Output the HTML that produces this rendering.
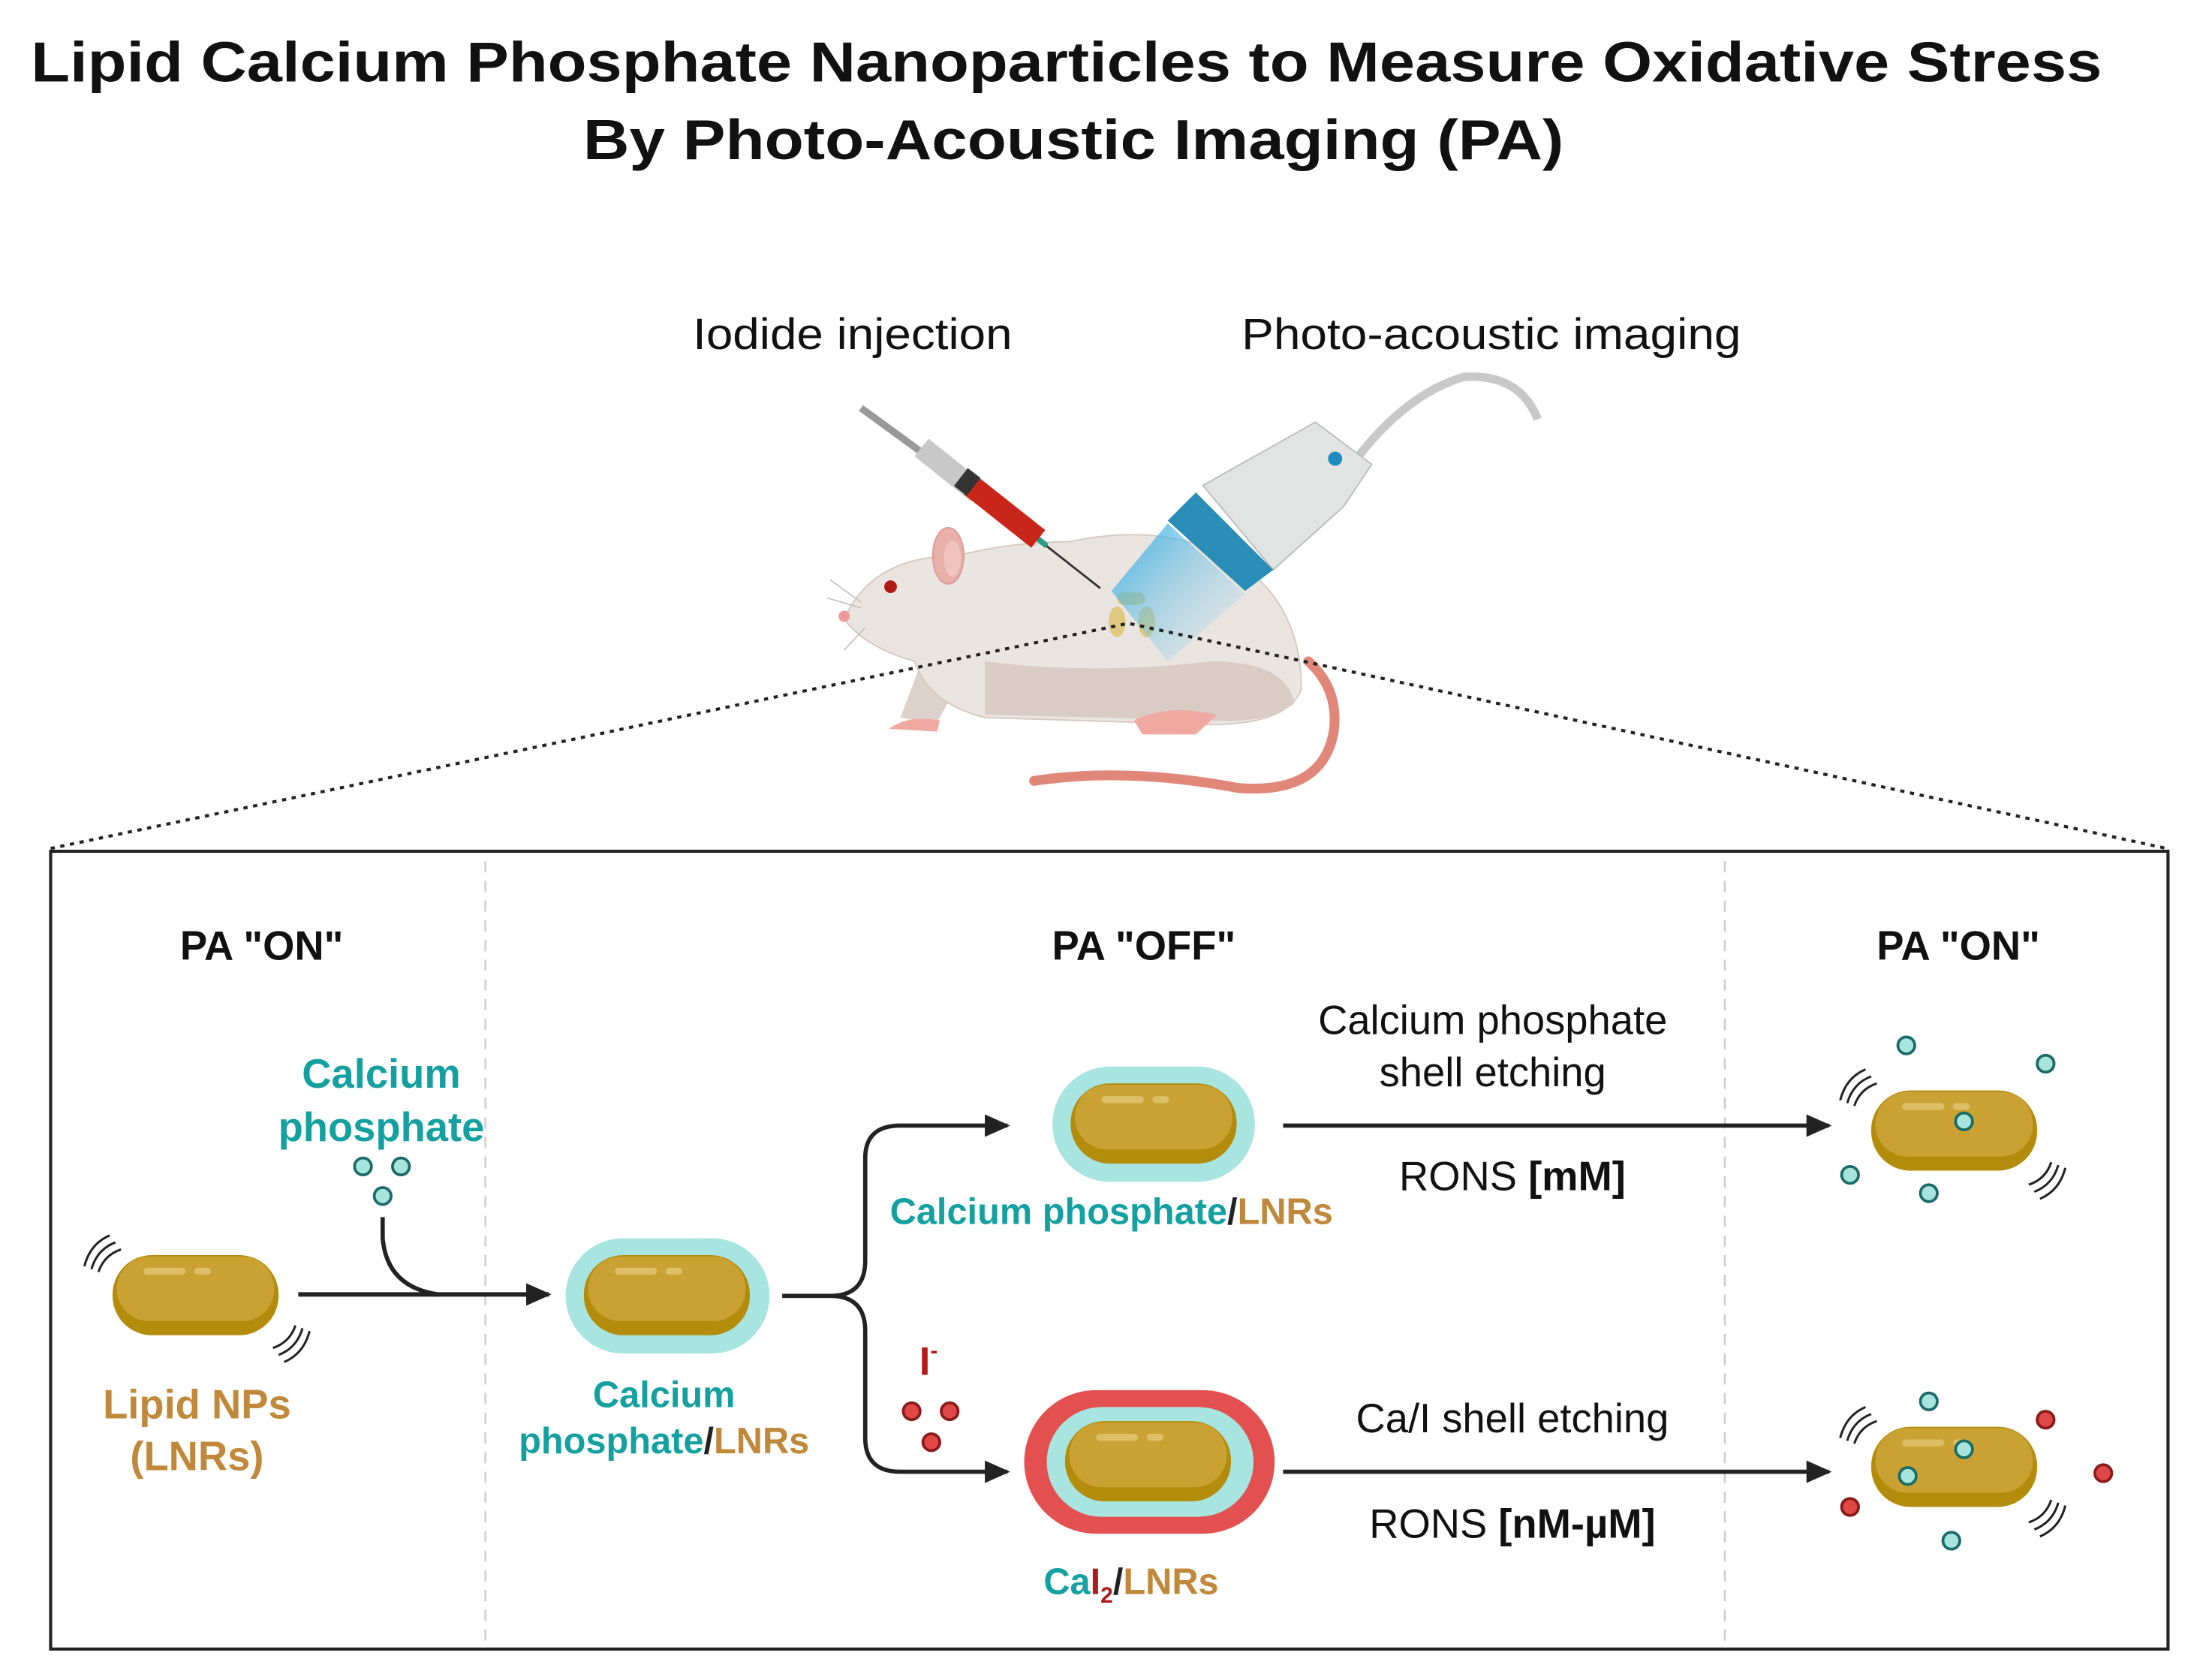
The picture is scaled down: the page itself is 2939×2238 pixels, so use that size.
<!DOCTYPE html>
<html><head><meta charset="utf-8"><style>
html,body{margin:0;padding:0;background:#fff;}
svg{display:block;}
text{font-family:"Liberation Sans",Arial,sans-serif;}
</style></head><body>
<svg width="2939" height="2238" viewBox="0 0 1568 1194" preserveAspectRatio="none" xmlns="http://www.w3.org/2000/svg">
<defs>
<linearGradient id="beam" x1="0" y1="0" x2="1" y2="1">
<stop offset="0" stop-color="#2aa8e0" stop-opacity="0.9"/>
<stop offset="1" stop-color="#9fd8f0" stop-opacity="0"/>
</linearGradient>
<marker id="ah" markerWidth="20" markerHeight="18" refX="16" refY="8" orient="auto" markerUnits="userSpaceOnUse">
<path d="M0,0 L18,8 L0,16 z" fill="#222"/>
</marker>
<g id="cap">
<rect x="0" y="0" width="118" height="57" rx="28" fill="#b48c0c"/>
<rect x="3" y="1" width="112" height="46" rx="23" fill="#c9a233"/>
<rect x="22" y="9" width="30" height="5" rx="2.5" fill="#dcbf66"/>
<rect x="58" y="9" width="12" height="5" rx="2.5" fill="#dcbf66"/>
</g>
<g id="wig" fill="none" stroke="#222" stroke-width="1.6">
<path d="M0,22 Q4,6 18,0"/><path d="M5,24 Q9,10 22,5"/><path d="M10,26 Q14,14 26,10"/>
</g>
</defs>

<text x="758" y="58" text-anchor="middle" font-size="40" font-weight="bold" fill="#111" textLength="1472" lengthAdjust="spacingAndGlyphs">Lipid Calcium Phosphate Nanoparticles to Measure Oxidative Stress</text>
<text x="763" y="113" text-anchor="middle" font-size="40" font-weight="bold" fill="#111" textLength="697" lengthAdjust="spacingAndGlyphs">By Photo-Acoustic Imaging (PA)</text>

<text x="606" y="248" text-anchor="middle" font-size="31" fill="#111" textLength="227" lengthAdjust="spacingAndGlyphs">Iodide injection</text>
<text x="1060" y="248" text-anchor="middle" font-size="31" fill="#111" textLength="355" lengthAdjust="spacingAndGlyphs">Photo-acoustic imaging</text>

<!-- mouse -->
<path d="M735,555 Q800,545 880,560 Q940,565 948,520 Q952,490 930,470" fill="none" stroke="#e0877a" stroke-width="7" stroke-linecap="round"/>
<path d="M655,470 L640,510 L665,515 L685,480 Z" fill="#ddd2cb"/>
<path d="M820,480 L810,508 L850,512 L860,480 Z" fill="#ddd2cb"/>
<path d="M600,440 Q620,395 680,395 Q720,385 760,385 Q830,370 880,400 Q925,430 925,490 Q915,515 860,515 L700,510 Q660,500 650,470 Q615,460 600,440 Z" fill="#ebe5e1" stroke="#d4c8c0" stroke-width="1"/>
<path d="M700,470 Q780,480 860,470 Q915,470 920,500 Q900,515 860,512 L700,508 Z" fill="#d9ccc4"/>
<path d="M632,518 Q645,508 668,512 L666,520 Z" fill="#f0a9a0"/>
<path d="M806,512 Q830,500 865,508 L850,522 L812,522 Z" fill="#f0a9a0"/>
<ellipse cx="674" cy="395" rx="11" ry="20" fill="#e8b0a8" stroke="#d99" stroke-width="1"/>
<ellipse cx="677" cy="397" rx="6" ry="13" fill="#f0c4bc"/>
<circle cx="633" cy="417" r="4.5" fill="#b01818"/>
<circle cx="600" cy="438" r="4" fill="#e99"/>
<g stroke="#bbb" stroke-width="0.8" fill="none"><path d="M612,428 L590,412"/><path d="M612,432 L588,425"/><path d="M615,446 L600,462"/></g>
<rect x="794" y="421" width="20" height="9" rx="4.5" fill="#e0c880"/>
<ellipse cx="794" cy="442" rx="6" ry="11" fill="#e0c880"/>
<ellipse cx="815" cy="442" rx="6" ry="11" fill="#e0c880"/>
<line x1="740" y1="385" x2="782" y2="418" stroke="#333" stroke-width="1.5"/>
<line x1="728" y1="375" x2="744" y2="388" stroke="#2a9a8a" stroke-width="4"/>
<line x1="612" y1="290" x2="660" y2="325" stroke="#999" stroke-width="5"/>
<line x1="655" y1="318" x2="695" y2="350" stroke="#c8c8c8" stroke-width="16"/>
<line x1="690" y1="345" x2="738" y2="383" stroke="#c8261a" stroke-width="16"/>
<line x1="683" y1="339" x2="692" y2="346" stroke="#333" stroke-width="16"/>
<path d="M965,325 Q1000,280 1040,268 Q1080,265 1093,298" fill="none" stroke="#c8c8c8" stroke-width="6"/>
<polygon points="855,345 935,300 975,330 955,360 905,405" fill="#e2e4e4" stroke="#bbb" stroke-width="1"/>
<polygon points="850,350 905,405 885,420 830,370" fill="#2a8db5"/>
<polygon points="830,372 885,422 830,470 790,420" fill="url(#beam)"/>
<circle cx="949" cy="326" r="5" fill="#1d8ac0"/>

<path d="M36,603 L802,443 L1540,603" fill="none" stroke="#222" stroke-width="2.2" stroke-dasharray="3,4"/>

<rect x="36" y="605" width="1505" height="567" fill="#fff" stroke="#222" stroke-width="2.2"/>
<line x1="345" y1="612" x2="345" y2="1170" stroke="#ccc" stroke-width="1.3" stroke-dasharray="8,6"/>
<line x1="1226" y1="612" x2="1226" y2="1170" stroke="#ccc" stroke-width="1.3" stroke-dasharray="8,6"/>

<text x="186" y="682" text-anchor="middle" font-size="29" font-weight="bold" fill="#111">PA "ON"</text>
<text x="813" y="682" text-anchor="middle" font-size="29" font-weight="bold" fill="#111">PA "OFF"</text>
<text x="1392" y="682" text-anchor="middle" font-size="29" font-weight="bold" fill="#111">PA "ON"</text>

<use href="#cap" x="80" y="892"/>
<use href="#wig" x="60" y="878"/>
<use href="#wig" transform="translate(220,968) rotate(180)"/>
<text x="140" y="1008" text-anchor="middle" font-size="29" font-weight="bold" fill="#c0883a">Lipid NPs</text>
<text x="140" y="1045" text-anchor="middle" font-size="29" font-weight="bold" fill="#c0883a">(LNRs)</text>

<text x="271" y="773" text-anchor="middle" font-size="29" font-weight="bold" fill="#14a0a0">Calcium</text>
<text x="271" y="811" text-anchor="middle" font-size="29" font-weight="bold" fill="#14a0a0">phosphate</text>
<g fill="#a8e4de" stroke="#1a6b66" stroke-width="2">
<circle cx="258" cy="829" r="6"/><circle cx="285" cy="829" r="6"/><circle cx="272" cy="850" r="6"/>
</g>
<line x1="212" y1="920" x2="390" y2="920" stroke="#222" stroke-width="3.2" marker-end="url(#ah)"/>
<path d="M272,865 L272,880 Q275,915 312,920" fill="none" stroke="#222" stroke-width="3"/>

<rect x="402" y="880" width="145" height="82" rx="41" fill="#a8e4e0"/>
<use href="#cap" x="415" y="892"/>
<text x="472" y="1000" text-anchor="middle" font-size="26" font-weight="bold" fill="#14a0a0">Calcium</text>
<text x="472" y="1033" text-anchor="middle" font-size="26" font-weight="bold"><tspan fill="#14a0a0">phosphate</tspan><tspan fill="#222">/</tspan><tspan fill="#c0883a">LNRs</tspan></text>

<path d="M556,921 L590,921 Q615,921 615,896 L615,823 Q615,800 640,800 L716,800" fill="none" stroke="#222" stroke-width="3" marker-end="url(#ah)"/>
<path d="M590,921 Q615,921 615,946 L615,1022 Q615,1046 640,1046 L716,1046" fill="none" stroke="#222" stroke-width="3" marker-end="url(#ah)"/>

<rect x="748" y="758" width="144" height="82" rx="41" fill="#a8e4e0"/>
<use href="#cap" x="761" y="770"/>
<text x="790" y="870" text-anchor="middle" font-size="26" font-weight="bold"><tspan fill="#14a0a0">Calcium phosphate</tspan><tspan fill="#222">/</tspan><tspan fill="#c0883a">LNRs</tspan></text>

<text x="660" y="977" text-anchor="middle" font-size="28" font-weight="bold" fill="#b01a1a">I<tspan font-size="16" dy="-12">-</tspan></text>
<g fill="#e04848" stroke="#8a1a1a" stroke-width="2">
<circle cx="648" cy="1003" r="6"/><circle cx="675" cy="1003" r="6"/><circle cx="662" cy="1025" r="6"/>
</g>
<rect x="728" y="988" width="178" height="102" rx="51" fill="#e35050"/>
<rect x="744" y="1000" width="147" height="78" rx="39" fill="#a8e4e0"/>
<use href="#cap" x="757" y="1010"/>
<text x="804" y="1133" text-anchor="middle" font-size="26" font-weight="bold"><tspan fill="#14a0a0">Ca</tspan><tspan fill="#b01a1a">I</tspan><tspan fill="#b01a1a" font-size="16" dy="6">2</tspan><tspan fill="#222" dy="-6">/</tspan><tspan fill="#c0883a">LNRs</tspan></text>

<line x1="912" y1="800" x2="1300" y2="800" stroke="#222" stroke-width="3" marker-end="url(#ah)"/>
<line x1="912" y1="1046" x2="1300" y2="1046" stroke="#222" stroke-width="3" marker-end="url(#ah)"/>
<text x="1061" y="735" text-anchor="middle" font-size="29" fill="#111">Calcium phosphate</text>
<text x="1061" y="772" text-anchor="middle" font-size="29" fill="#111">shell etching</text>
<text x="1075" y="846" text-anchor="middle" font-size="29" fill="#111">RONS <tspan font-weight="bold">[mM]</tspan></text>
<text x="1075" y="1018" text-anchor="middle" font-size="29" fill="#111">Ca/I shell etching</text>
<text x="1075" y="1093" text-anchor="middle" font-size="29" fill="#111">RONS <tspan font-weight="bold">[nM-µM]</tspan></text>

<use href="#cap" x="1330" y="775"/>
<use href="#wig" x="1308" y="760"/>
<use href="#wig" transform="translate(1468,852) rotate(180)"/>
<use href="#cap" x="1330" y="1014"/>
<use href="#wig" x="1308" y="1000"/>
<use href="#wig" transform="translate(1468,1092) rotate(180)"/>
<g fill="#a8e4de" stroke="#1a6b66" stroke-width="2">
<circle cx="1355" cy="743" r="6"/><circle cx="1454" cy="756" r="6"/><circle cx="1396" cy="797" r="6"/><circle cx="1315" cy="835" r="6"/><circle cx="1371" cy="848" r="6"/>
<circle cx="1371" cy="996" r="6"/><circle cx="1396" cy="1030" r="6"/><circle cx="1356" cy="1049" r="6"/><circle cx="1387" cy="1095" r="6"/>
</g>
<g fill="#e04848" stroke="#8a1a1a" stroke-width="2">
<circle cx="1454" cy="1009" r="6"/><circle cx="1495" cy="1047" r="6"/><circle cx="1315" cy="1071" r="6"/>
</g>
</svg>
</body></html>
